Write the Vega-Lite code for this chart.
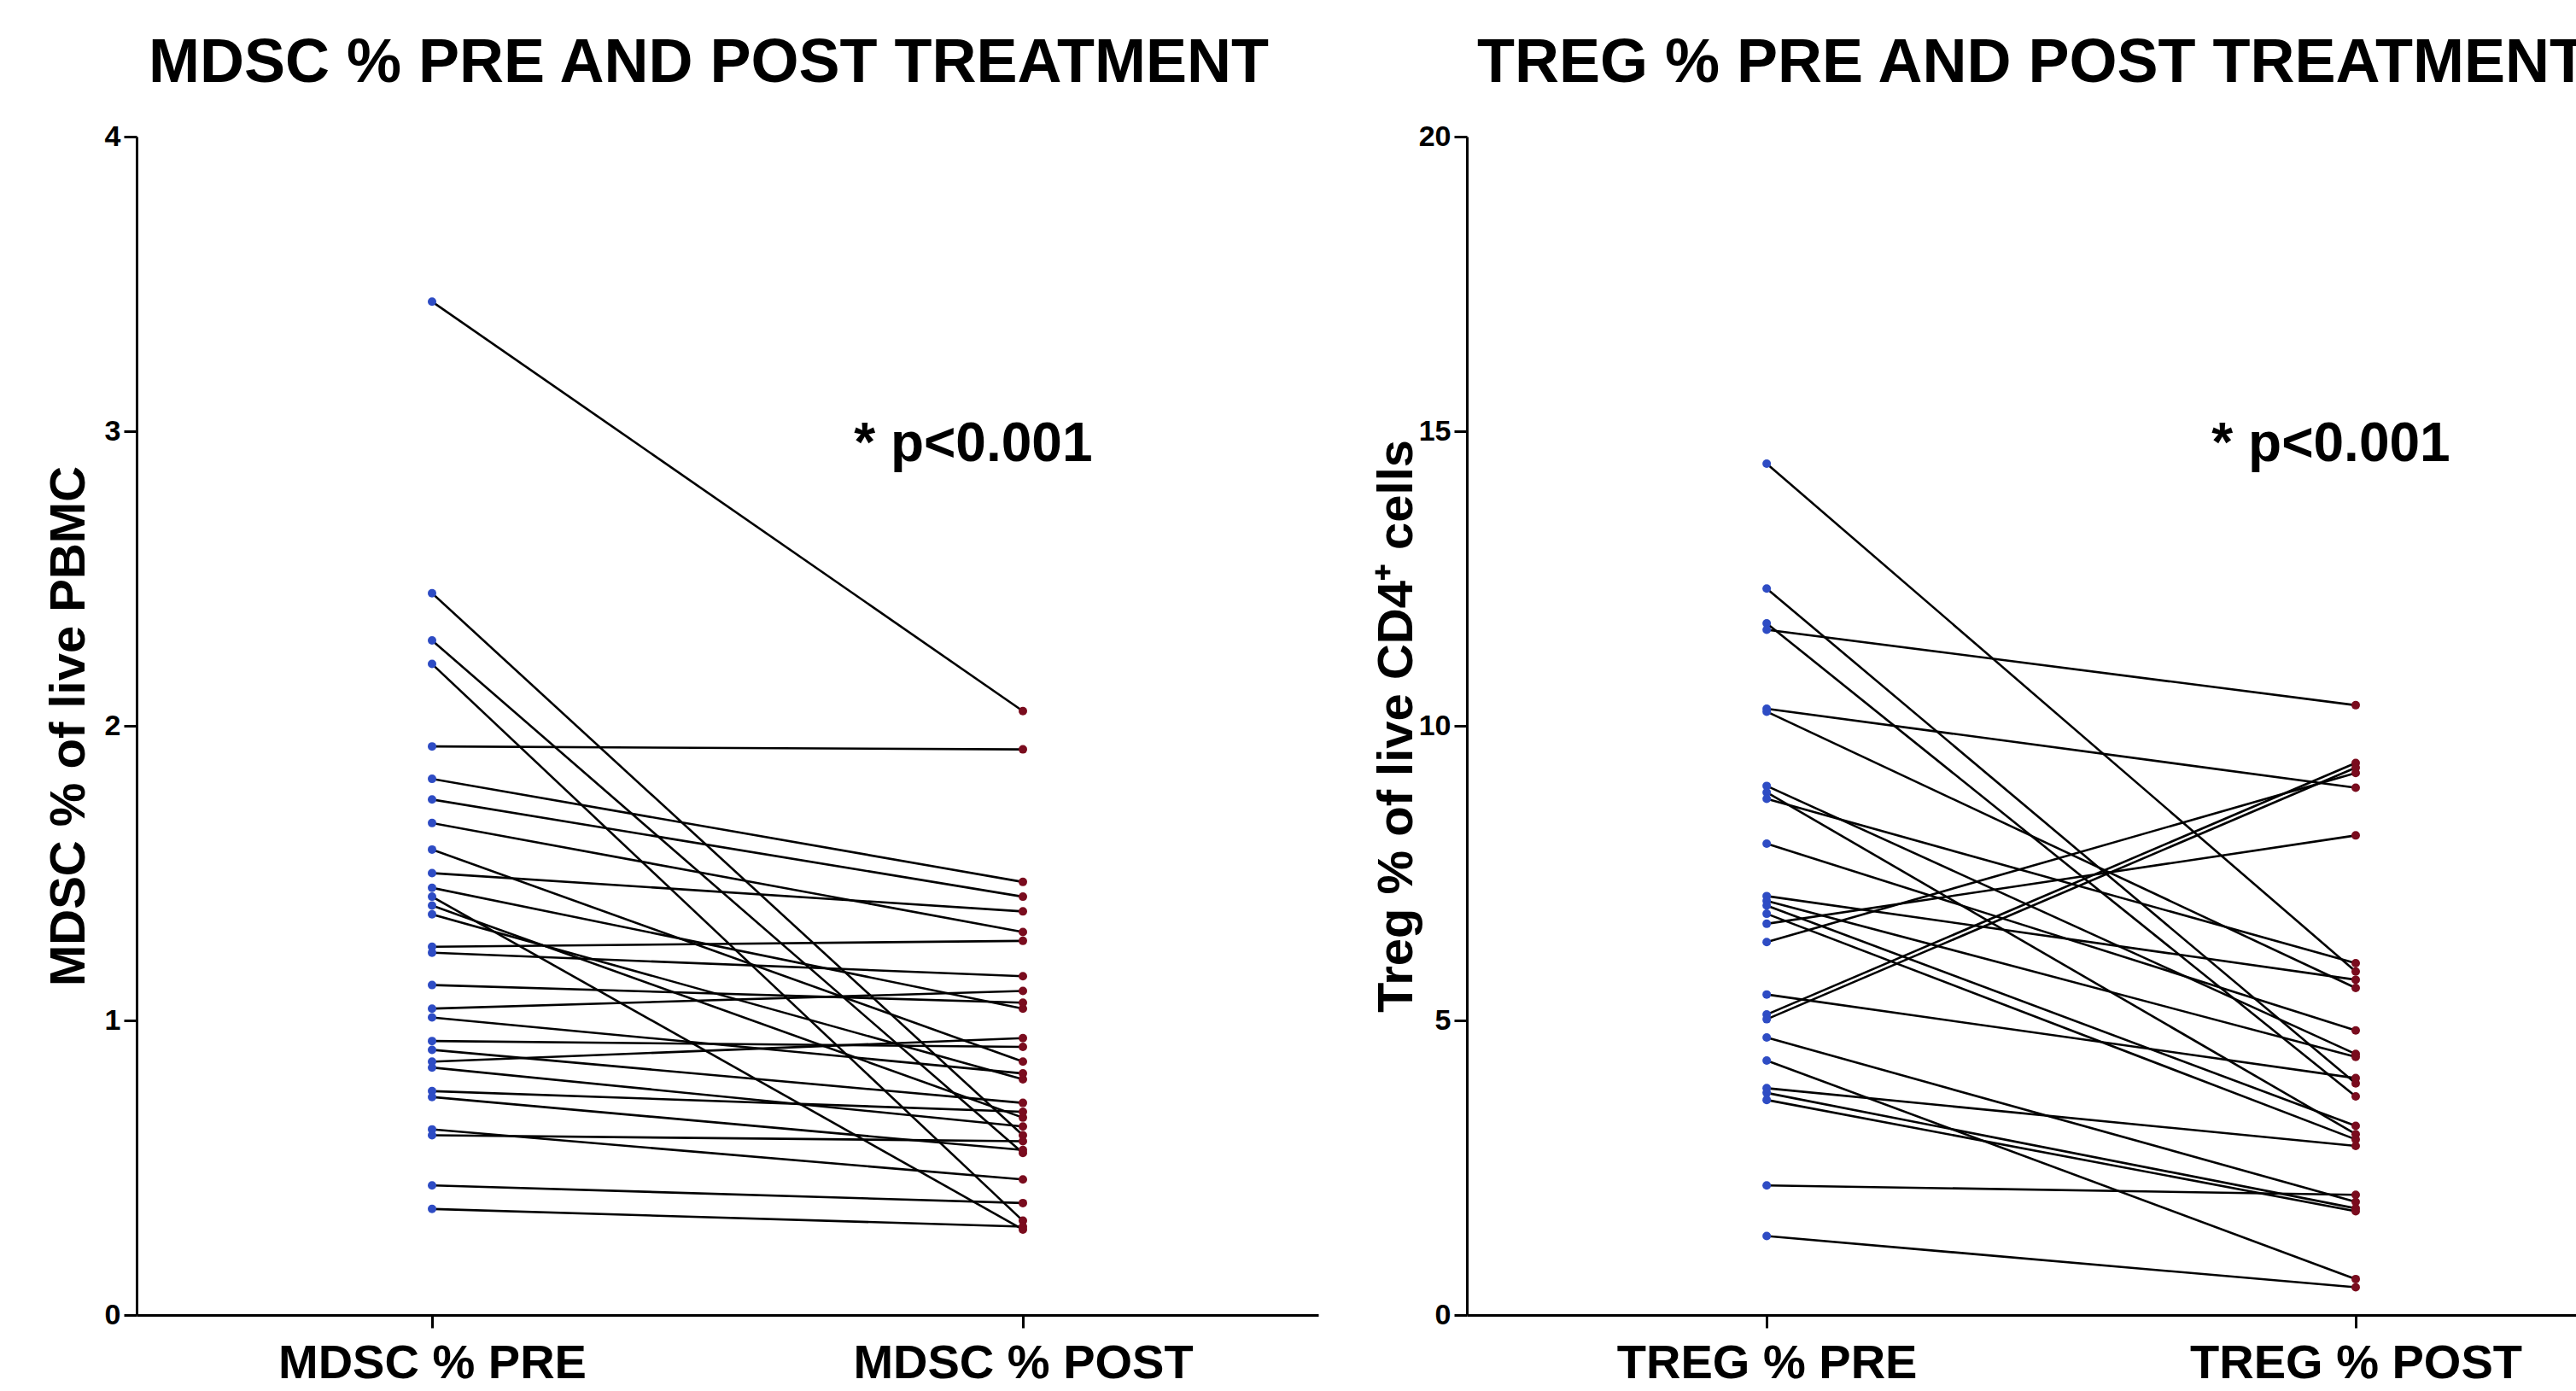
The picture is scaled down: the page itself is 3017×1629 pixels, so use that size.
{
  "$schema": "https://vega.github.io/schema/vega-lite/v6.json",
  "background": "white",
  "padding": {"left": 52, "top": 38, "right": 0, "bottom": 0},
  "spacing": 63,
  "config": {
    "font": "Liberation Sans",
    "view": {"stroke": null},
    "axis": {
      "grid": false,
      "domainColor": "black",
      "domainWidth": 3,
      "tickColor": "black",
      "tickWidth": 3,
      "tickSize": 15,
      "labelFont": "Liberation Sans",
      "labelFontWeight": "bold",
      "labelColor": "black",
      "labelLimit": 0,
      "titleFont": "Liberation Sans",
      "titleFontWeight": "bold",
      "titleColor": "black"
    },
    "title": {
      "font": "Liberation Sans",
      "fontWeight": "bold",
      "fontSize": 72,
      "color": "black",
      "anchor": "start",
      "frame": "group",
      "baseline": "alphabetic",
      "offset": 32
    }
  },
  "datasets": {
    "mdsc": [
      {"id": 1, "visit": 1, "v": 3.44}, {"id": 1, "visit": 2, "v": 2.05},
      {"id": 2, "visit": 1, "v": 2.45}, {"id": 2, "visit": 2, "v": 0.61},
      {"id": 3, "visit": 1, "v": 2.29}, {"id": 3, "visit": 2, "v": 0.55},
      {"id": 4, "visit": 1, "v": 2.21}, {"id": 4, "visit": 2, "v": 0.32},
      {"id": 5, "visit": 1, "v": 1.93}, {"id": 5, "visit": 2, "v": 1.92},
      {"id": 6, "visit": 1, "v": 1.82}, {"id": 6, "visit": 2, "v": 1.47},
      {"id": 7, "visit": 1, "v": 1.75}, {"id": 7, "visit": 2, "v": 1.42},
      {"id": 8, "visit": 1, "v": 1.67}, {"id": 8, "visit": 2, "v": 1.30},
      {"id": 9, "visit": 1, "v": 1.58}, {"id": 9, "visit": 2, "v": 0.86},
      {"id": 10, "visit": 1, "v": 1.50}, {"id": 10, "visit": 2, "v": 1.37},
      {"id": 11, "visit": 1, "v": 1.45}, {"id": 11, "visit": 2, "v": 1.04},
      {"id": 12, "visit": 1, "v": 1.42}, {"id": 12, "visit": 2, "v": 0.29},
      {"id": 13, "visit": 1, "v": 1.39}, {"id": 13, "visit": 2, "v": 0.67},
      {"id": 14, "visit": 1, "v": 1.36}, {"id": 14, "visit": 2, "v": 0.80},
      {"id": 15, "visit": 1, "v": 1.25}, {"id": 15, "visit": 2, "v": 1.27},
      {"id": 16, "visit": 1, "v": 1.23}, {"id": 16, "visit": 2, "v": 1.15},
      {"id": 17, "visit": 1, "v": 1.12}, {"id": 17, "visit": 2, "v": 1.06},
      {"id": 18, "visit": 1, "v": 1.04}, {"id": 18, "visit": 2, "v": 1.10},
      {"id": 19, "visit": 1, "v": 1.01}, {"id": 19, "visit": 2, "v": 0.82},
      {"id": 20, "visit": 1, "v": 0.93}, {"id": 20, "visit": 2, "v": 0.91},
      {"id": 21, "visit": 1, "v": 0.90}, {"id": 21, "visit": 2, "v": 0.72},
      {"id": 22, "visit": 1, "v": 0.86}, {"id": 22, "visit": 2, "v": 0.94},
      {"id": 23, "visit": 1, "v": 0.84}, {"id": 23, "visit": 2, "v": 0.64},
      {"id": 24, "visit": 1, "v": 0.76}, {"id": 24, "visit": 2, "v": 0.69},
      {"id": 25, "visit": 1, "v": 0.74}, {"id": 25, "visit": 2, "v": 0.56},
      {"id": 26, "visit": 1, "v": 0.63}, {"id": 26, "visit": 2, "v": 0.46},
      {"id": 27, "visit": 1, "v": 0.61}, {"id": 27, "visit": 2, "v": 0.59},
      {"id": 28, "visit": 1, "v": 0.44}, {"id": 28, "visit": 2, "v": 0.38},
      {"id": 29, "visit": 1, "v": 0.36}, {"id": 29, "visit": 2, "v": 0.30}
    ],
    "treg": [
      {"id": 1, "visit": 1, "v": 14.45}, {"id": 1, "visit": 2, "v": 5.83},
      {"id": 2, "visit": 1, "v": 12.33}, {"id": 2, "visit": 2, "v": 3.93},
      {"id": 3, "visit": 1, "v": 11.74}, {"id": 3, "visit": 2, "v": 3.71},
      {"id": 4, "visit": 1, "v": 11.63}, {"id": 4, "visit": 2, "v": 10.35},
      {"id": 5, "visit": 1, "v": 10.29}, {"id": 5, "visit": 2, "v": 8.95},
      {"id": 6, "visit": 1, "v": 10.24}, {"id": 6, "visit": 2, "v": 5.55},
      {"id": 7, "visit": 1, "v": 8.98}, {"id": 7, "visit": 2, "v": 4.43},
      {"id": 8, "visit": 1, "v": 8.87}, {"id": 8, "visit": 2, "v": 3.07},
      {"id": 9, "visit": 1, "v": 8.76}, {"id": 9, "visit": 2, "v": 5.97},
      {"id": 10, "visit": 1, "v": 8.00}, {"id": 10, "visit": 2, "v": 4.83},
      {"id": 11, "visit": 1, "v": 7.11}, {"id": 11, "visit": 2, "v": 5.69},
      {"id": 12, "visit": 1, "v": 7.03}, {"id": 12, "visit": 2, "v": 4.38},
      {"id": 13, "visit": 1, "v": 6.95}, {"id": 13, "visit": 2, "v": 3.21},
      {"id": 14, "visit": 1, "v": 6.81}, {"id": 14, "visit": 2, "v": 2.98},
      {"id": 15, "visit": 1, "v": 6.64}, {"id": 15, "visit": 2, "v": 8.14},
      {"id": 16, "visit": 1, "v": 6.33}, {"id": 16, "visit": 2, "v": 9.20},
      {"id": 17, "visit": 1, "v": 5.44}, {"id": 17, "visit": 2, "v": 4.02},
      {"id": 18, "visit": 1, "v": 5.10}, {"id": 18, "visit": 2, "v": 9.37},
      {"id": 19, "visit": 1, "v": 5.02}, {"id": 19, "visit": 2, "v": 9.29},
      {"id": 20, "visit": 1, "v": 4.71}, {"id": 20, "visit": 2, "v": 1.92},
      {"id": 21, "visit": 1, "v": 4.32}, {"id": 21, "visit": 2, "v": 0.61},
      {"id": 22, "visit": 1, "v": 3.85}, {"id": 22, "visit": 2, "v": 2.87},
      {"id": 23, "visit": 1, "v": 3.77}, {"id": 23, "visit": 2, "v": 1.81},
      {"id": 24, "visit": 1, "v": 3.65}, {"id": 24, "visit": 2, "v": 1.76},
      {"id": 25, "visit": 1, "v": 2.20}, {"id": 25, "visit": 2, "v": 2.04},
      {"id": 26, "visit": 1, "v": 1.34}, {"id": 26, "visit": 2, "v": 0.47}
    ]
  },
  "hconcat": [
    {
      "width": 1384,
      "height": 1380,
      "title": {"text": "MDSC % PRE AND POST TREATMENT", "dx": 14},
      "data": {"name": "mdsc"},
      "encoding": {
        "x": {
          "field": "visit", "type": "quantitative",
          "scale": {"domain": [0.5, 2.5], "nice": false, "zero": false},
          "axis": {"title": null, "values": [1, 2], "labelExpr": "datum.value == 1 ? 'MDSC % PRE' : 'MDSC % POST'", "labelFontSize": 56, "labelPadding": 14, "labelFlush": false}
        },
        "y": {
          "field": "v", "type": "quantitative",
          "scale": {"domain": [0, 4], "nice": false},
          "axis": {"title": "MDSC % of live PBMC", "titleFontSize": 58, "titlePadding": 12, "values": [0, 1, 2, 3, 4], "labelFontSize": 34, "labelPadding": 4}
        }
      },
      "layer": [
        {"mark": {"type": "line", "color": "black", "strokeWidth": 2.6}, "encoding": {"detail": {"field": "id", "type": "nominal"}}},
        {
          "mark": {"type": "point", "filled": true, "size": 100, "opacity": 1},
          "encoding": {"color": {"field": "visit", "type": "nominal", "scale": {"domain": [1, 2], "range": ["#2e4cc4", "#7a0c1e"]}, "legend": null}}
        },
        {
          "data": {"values": [{"px": 1.916, "py": 2.90, "label": "* p<0.001"}]},
          "mark": {"type": "text", "fontSize": 64, "fontWeight": "bold", "font": "Liberation Sans", "color": "black", "baseline": "alphabetic", "align": "center"},
          "encoding": {
            "x": {"field": "px", "type": "quantitative"},
            "y": {"field": "py", "type": "quantitative"},
            "text": {"field": "label"}
          }
        }
      ]
    },
    {
      "width": 1299,
      "height": 1380,
      "title": {"text": "TREG % PRE AND POST TREATMENT", "dx": 12},
      "data": {"name": "treg"},
      "encoding": {
        "x": {
          "field": "visit", "type": "quantitative",
          "scale": {"domain": [0.491, 2.374], "nice": false, "zero": false},
          "axis": {"title": null, "values": [1, 2], "labelExpr": "datum.value == 1 ? 'TREG % PRE' : 'TREG % POST'", "labelFontSize": 56, "labelPadding": 14, "labelFlush": false}
        },
        "y": {
          "field": "v", "type": "quantitative",
          "scale": {"domain": [0, 20], "nice": false},
          "axis": {"title": "Treg % of live CD4⁺ cells", "titleFontSize": 58, "titlePadding": -4, "values": [0, 5, 10, 15, 20], "labelFontSize": 34, "labelPadding": 4}
        }
      },
      "layer": [
        {"mark": {"type": "line", "color": "black", "strokeWidth": 2.6}, "encoding": {"detail": {"field": "id", "type": "nominal"}}},
        {
          "mark": {"type": "point", "filled": true, "size": 100, "opacity": 1},
          "encoding": {"color": {"field": "visit", "type": "nominal", "scale": {"domain": [1, 2], "range": ["#2e4cc4", "#7a0c1e"]}, "legend": null}}
        },
        {
          "data": {"values": [{"px": 1.958, "py": 14.5, "label": "* p<0.001"}]},
          "mark": {"type": "text", "fontSize": 64, "fontWeight": "bold", "font": "Liberation Sans", "color": "black", "baseline": "alphabetic", "align": "center"},
          "encoding": {
            "x": {"field": "px", "type": "quantitative"},
            "y": {"field": "py", "type": "quantitative"},
            "text": {"field": "label"}
          }
        }
      ]
    }
  ],
  "resolve": {"scale": {"color": "independent"}}
}
